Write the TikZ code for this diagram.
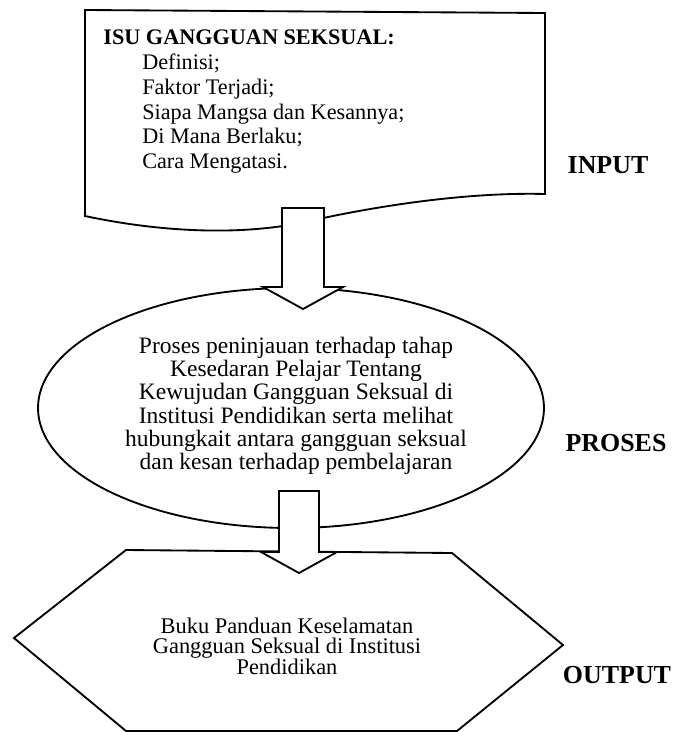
\documentclass[tikz,border=0pt]{standalone}
\usepackage{fontspec}
\setmainfont{Liberation Serif}
\usetikzlibrary{shapes.geometric}
\newcommand\tightskip{\lineskiplimit=-20pt\relax}
\begin{document}
\begin{tikzpicture}[x=0.54pt,y=-0.54pt,
  outline/.style={draw=black, line width=1pt, line join=miter},
  blockarrow/.style={draw=black, fill=white, line width=1pt, line join=miter},
  stagelabel/.style={font=\fontsize{14}{16}\selectfont\bfseries, inner sep=0pt},
  ]
\useasboundingbox (0,0) rectangle (675,732);

% INPUT document shape
\draw[outline] (85,10) -- (545,13) -- (545,194)
  .. controls (470,192) and (380,205) .. (305,222)
  .. controls (240,236) and (160,232) .. (85,216) -- cycle;
\node[anchor=north west, align=left, inner sep=0pt,
      font=\fontsize{12}{13.4}\selectfont] (doctext) at (103,29.5)
  {\textbf{ISU GANGGUAN SEKSUAL:}\\
   \hspace*{21pt}Definisi;\\
   \hspace*{21pt}Faktor Terjadi;\\
   \hspace*{21pt}Siapa Mangsa dan Kesannya;\\
   \hspace*{21pt}Di Mana Berlaku;\\
   \hspace*{21pt}Cara Mengatasi.};

% PROCESS ellipse
\node[outline, ellipse, minimum width=273.2pt, minimum height=129.6pt, inner sep=0pt]
  (proc) at (291,408) {};
\node[align=center, inner sep=0pt, font=\fontsize{12.7}{12.6}\selectfont]
  (proctext) at (296,406)
  {Proses peninjauan terhadap tahap\\
   Kesedaran Pelajar Tentang\\
   Kewujudan Gangguan Seksual di\\
   Institusi Pendidikan serta melihat\\
   hubungkait antara gangguan seksual\\
   dan kesan terhadap pembelajaran};

% OUTPUT hexagon
\draw[outline] (126,550) -- (452,553) -- (563,645) -- (457,731)
  -- (126,731) -- (14,638) -- cycle;
\node[align=center, inner sep=0pt,
      font=\fontsize{12.1}{11.1}\selectfont\tightskip]
  (outtext) at (287,646)
  {Buku Panduan Keselamatan\\
   Gangguan Seksual di Institusi\\
   Pendidikan};

% block arrows
\coordinate (tipA) at (303,309);
\coordinate (tipB) at (299,573);
\draw[blockarrow] (tipA) -- ++(-40,-22) -- ++(19,0) -- ++(0,-79) -- ++(42,0)
  -- ++(0,79) -- ++(19,0) -- cycle;
\draw[blockarrow] (tipB) -- ++(-38,-21) -- ++(18,0) -- ++(0,-61) -- ++(40,0)
  -- ++(0,61) -- ++(18,0) -- cycle;

% stage labels
\node[stagelabel] (lin) at (608,165) {INPUT};
\node[stagelabel] (lproc) at (616,443) {PROSES};
\node[stagelabel] (lout) at (617,675) {OUTPUT};
\end{tikzpicture}
\end{document}
